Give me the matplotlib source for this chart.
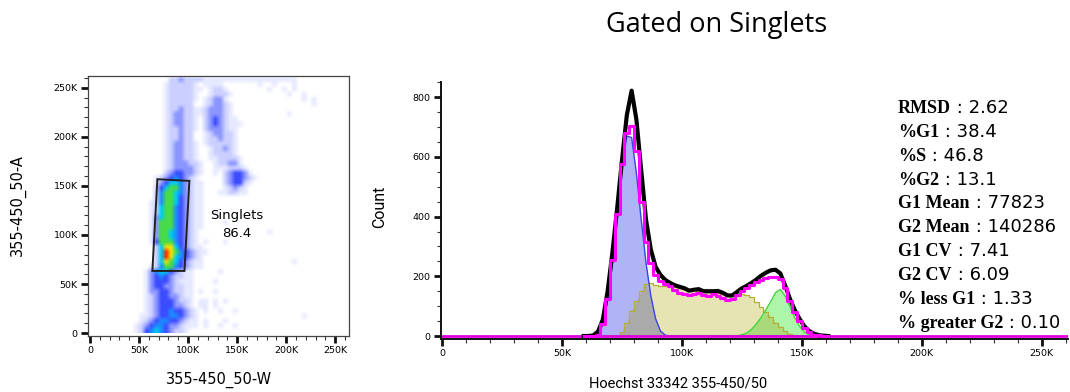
import numpy as np
import matplotlib.pyplot as plt
from matplotlib.colors import ListedColormap

# ---- left dot plot, density ----
# (y_lo, x_lo, levels): values in K, each char is one 5K x 5K cell, '.' = empty
density = [
    (255, 80, "22322221111111111111111111"),
    (250, 75, "1222221.1111"), (250, 170, "1..1...1"),
    (245, 75, "12222211.1221"), (245, 180, "1..1.1"),
    (240, 75, "1222221..12221"), (240, 200, "1..1"),
    (235, 75, "1222221.12331"), (235, 215, "1.1"),
    (230, 75, "122222..123321"), (230, 225, "1"),
    (225, 75, "12232211233321"),
    (220, 75, "12332211233321"), (220, 200, "1"),
    (215, 75, "1233221.2343211"),
    (210, 75, "1233221.23432111"),
    (205, 75, "1223221.2333211"),
    (200, 75, "122322..1233221"),
    (195, 75, "122322..1223221"),
    (190, 75, "1233221.1222221"),
    (185, 75, "1233221..122321"),
    (180, 75, "1233221..122221"),
    (175, 75, "1233221..1122221"),
    (170, 75, "12333221..122331"),
    (165, 75, "12333321"), (165, 125, "11"), (165, 135, "12221"),
    (160, 75, "23443321"), (160, 125, "1"), (160, 135, "23443"), (160, 160, "1"),
    (155, 65, "123454321"), (155, 135, "23443"), (155, 160, "21"),
    (150, 65, "1346653211"), (150, 135, "23442"), (150, 160, "1"),
    (145, 65, "2467753211"), (145, 135, "12321"),
    (140, 65, "2577653211"), (140, 130, "112211"),
    (135, 65, "2577643211"),
    (130, 60, "12577643211"), (130, 100, ".11"),
    (125, 60, "12677543211"),
    (120, 60, "12677543211"), (120, 125, "1"),
    (115, 60, "13677543211"),
    (110, 60, "13777543211"), (110, 135, "1"),
    (105, 60, "13777543211"),
    (100, 60, "1377654321"), (100, 180, "1"),
    (95, 60, "1377654321"),
    (90, 60, "1477754321"), (90, 115, "1...1"),
    (85, 65, "2688643211"),
    (80, 65, "26987543211"),
    (75, 65, "2698654321"),
    (70, 65, "2687643211"), (70, 205, "1"),
    (65, 60, "12577543211"),
    (60, 55, "1356643211"), (60, 130, "1"),
    (55, 55, "1345432211"),
    (50, 55, "1344432111"), (50, 125, "1"),
    (45, 55, "1344332211"),
    (40, 55, "1334432211"), (40, 110, "1..1"),
    (35, 55, "1234433211"),
    (30, 55, "1234443221"), (30, 110, "11.1.1"),
    (25, 55, "1234443321"), (25, 110, "11.1"),
    (20, 55, "12344544321"), (20, 115, "1..1..1"),
    (15, 50, "112344554321"), (15, 215, "1"),
    (10, 50, "123455443211"), (10, 115, "1...1"),
    (5, 45, "1234554332111"), (5, 115, "1..1..1"),
    (0, 45, "12456543221"),
]
level_colors = ['#ffffff', '#e6e9ff', '#cacfff', '#8c96ff', '#3c4cff', '#1c8cff',
                '#00ccee', '#48dc48', '#eee400', '#ff2a00']

gate_x = [68.7, 101.3, 96.3, 63.6]
gate_y = [156.8, 155.1, 63.3, 63.3]
gate_name = "Singlets"
gate_pct = "86.4"

# ---- right histogram (x in K, counts) ----
x_k = np.arange(59, 162, 2)
data_counts = [0, 0, 2, 15, 55, 150, 280, 430, 590, 740, 822, 725, 555, 390, 290, 232,
               205, 188, 178, 170, 165, 160, 152, 155, 157, 150, 150, 150, 151, 145, 136,
               136, 148, 160, 168, 178, 189, 202, 212, 220, 222, 210, 170, 125, 88, 58,
               33, 17, 8, 3, 1, 0]
fit_counts = [0, 0, 0, 3, 40, 125, 255, 410, 575, 680, 705, 620, 450, 315, 245, 205,
              185, 175, 167, 155, 145, 140, 139, 142, 144, 139, 135, 140, 135, 128, 120,
              125, 138, 150, 160, 170, 180, 188, 195, 198, 198, 190, 160, 118, 80, 50,
              26, 12, 5, 2, 0, 0]
g1_counts = [0, 0, 0, 3, 38, 120, 240, 395, 560, 670, 665, 545, 390, 245, 135, 58,
             17, 3, 0, 0, 0, 0, 0, 0, 0, 0, 0, 0, 0, 0, 0,
             0, 0, 0, 0, 0, 0, 0, 0, 0, 0, 0, 0, 0, 0, 0,
             0, 0, 0, 0, 0, 0]
s_counts = [0, 0, 0, 0, 0, 0, 0, 0, 15, 45, 85, 118, 150, 175, 178, 170,
            168, 167, 165, 163, 160, 158, 155, 153, 150, 148, 147, 145, 144, 142, 141,
            141, 141, 140, 138, 130, 115, 98, 80, 64, 45, 30, 17, 8, 2, 0,
            0, 0, 0, 0, 0, 0]
g2_counts = [0, 0, 0, 0, 0, 0, 0, 0, 0, 0, 0, 0, 0, 0, 0, 0,
             0, 0, 0, 0, 0, 0, 0, 0, 0, 0, 0, 0, 0, 0, 0,
             0, 1, 4, 10, 22, 40, 62, 88, 115, 145, 156, 135, 100, 62, 33,
             14, 5, 1, 0, 0, 0]

stat_names = ["RMSD", "%G1", "%S", "%G2", "G1 Mean", "G2 Mean", "G1 CV", "G2 CV",
              "% less G1", "% greater G2"]
stat_values = ["2.62", "38.4", "46.8", "13.1", "77823", "140286", "7.41", "6.09",
               "1.33", "0.10"]

k_ticks = [0, 50, 100, 150, 200, 250]
k_labels = ["0", "50K", "100K", "150K", "200K", "250K"]

W, H = 1070, 392
fig = plt.figure(figsize=(W / 100, H / 100), dpi=100)


def style_ticks(ax, minor_x, minor_y):
    ax.set_xticks(minor_x, minor=True)
    ax.set_yticks(minor_y, minor=True)
    ax.tick_params(which='major', direction='out', length=5, width=2, color='#111111',
                   labelsize=6.8, pad=2.5)
    ax.tick_params(which='minor', direction='out', length=3, width=0.8, color='#333333')


# left panel
ax1 = fig.add_axes([88 / W, (H - 336) / H, 261 / W, 260 / H])
grid = np.zeros((53, 53), dtype=int)
for y_lo, x_lo, s in density:
    for i, ch in enumerate(s):
        if ch != '.':
            grid[y_lo // 5, x_lo // 5 + i] = int(ch)
ax1.imshow(grid, origin='lower', extent=(0, 265, 0, 265), aspect='auto',
           cmap=ListedColormap(level_colors), vmin=-0.5, vmax=9.5,
           interpolation='bilinear', interpolation_stage='rgba')
ax1.fill(gate_x, gate_y, fill=False, edgecolor='#222222', lw=1.4)
ax1.text(150, 120, gate_name, ha='center', va='center', fontsize=9.5)
ax1.text(150, 101.5, gate_pct, ha='center', va='center', fontsize=9.5)
ax1.set_xlim(-2, 264)
ax1.set_ylim(-3, 262)
ax1.set_xticks(k_ticks, k_labels)
ax1.set_yticks(k_ticks, k_labels)
style_ticks(ax1, np.arange(0, 261, 10), np.arange(0, 261, 10))
for sp in ax1.spines.values():
    sp.set_color('#444444')
    sp.set_linewidth(0.9)

# right panel
ax2 = fig.add_axes([441 / W, (H - 339) / H, 627 / W, 257 / H])
g1 = np.array(g1_counts)
sp_ = np.array(s_counts)
g2 = np.array(g2_counts)
ax2.fill_between(x_k, 0, sp_, step='mid', color='#e6e4b2', lw=0)
ax2.fill_between(x_k, 0, g1, color='#b0b4f6', lw=0)
ax2.fill_between(x_k, 0, g2, color='#adf5a8', lw=0)
ax2.fill_between(x_k, 0, np.minimum(g1, sp_), color='#aaaaaa', lw=0)
ax2.fill_between(x_k, 0, np.minimum(g2, sp_), color='#a9d97a', lw=0)
ax2.step(x_k, sp_, where='mid', color='#b5ad3a', lw=0.9)
ax2.plot(x_k, g1, color='#3a46e0', lw=1)
ax2.plot(x_k, g2, color='#3ed63a', lw=1)
ax2.plot([0, 261], [0, 0], color='#e000e0', lw=2)
ax2.plot(x_k, data_counts, color='black', lw=3, solid_joinstyle='round')
ax2.step(x_k, fit_counts, where='mid', color='#ff00ff', lw=2.2)
ax2.set_xlim(-0.5, 261)
ax2.set_ylim(-10, 851)
ax2.set_xticks(k_ticks, k_labels)
ax2.set_yticks([0, 200, 400, 600, 800])
style_ticks(ax2, np.arange(0, 261, 10), np.arange(0, 851, 50))
ax2.spines['top'].set_visible(False)
ax2.spines['right'].set_visible(False)
for s in ['left', 'bottom']:
    ax2.spines[s].set_linewidth(1.4)
    ax2.spines[s].set_color('#111111')

# labels
fig.text(717 / W, 1 - 25 / H, "Gated on Singlets", ha='center', va='center',
         fontsize=19.5, family='Open Sans')
fig.text(18 / W, 1 - 205 / H, "355-450_50-A", rotation=90, ha='center', va='center',
         fontsize=10.5)
fig.text(219 / W, 1 - 380 / H, "355-450_50-W", ha='center', va='center', fontsize=10.5)
fig.text(380 / W, 1 - 207 / H, "Count", rotation=90, ha='center', va='center',
         fontsize=11.5, family='Roboto')
fig.text(678 / W, 1 - 383 / H, "Hoechst 33342 355-450/50", ha='center', va='center',
         fontsize=10.5, family='Roboto')

name_texts = []
for i, name in enumerate(stat_names):
    yb = 1 - (113.3 + 23.8 * i) / H
    t = fig.text(898 / W, yb, name, ha='left', va='baseline', fontsize=13,
                 family='Liberation Serif', weight='bold')
    name_texts.append((t, yb))
fig.canvas.draw()
r = fig.canvas.get_renderer()
for (t, yb), val in zip(name_texts, stat_values):
    bb = t.get_window_extent(r)
    fig.text(bb.x1 / fig.bbox.width, yb, " : " + val, ha='left', va='baseline',
             fontsize=13)

fig.savefig("out.png", dpi=100)
